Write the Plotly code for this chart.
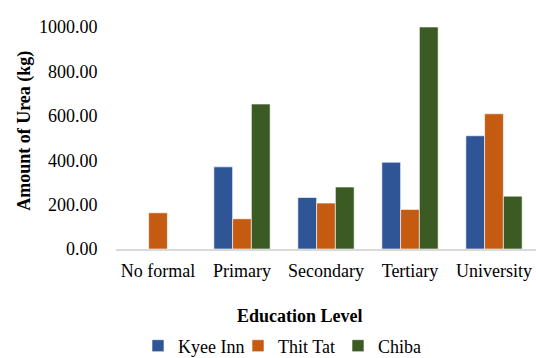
import plotly.graph_objects as go

categories = ["No formal", "Primary", "Secondary", "Tertiary", "University"]
kyee_inn = [0, 370, 232, 391, 510]
thit_tat = [163, 136, 207, 178, 609]
chiba = [0, 653, 279, 1000, 238]
y_ticks = [0, 200, 400, 600, 800, 1000]

FONT = "Liberation Serif, serif"

fig = go.Figure()
for name, vals, col in [("Kyee Inn", kyee_inn, "#2F5597"),
                        ("Thit Tat", thit_tat, "#C55A11"),
                        ("Chiba", chiba, "#3B5A24")]:
    fig.add_trace(go.Bar(x=categories, y=vals, name=name,
                         marker=dict(color=col, line=dict(color="white", width=0.6))))

fig.update_layout(
    width=536, height=358,
    margin=dict(l=116, r=0, t=27, b=109, autoexpand=False),
    paper_bgcolor="white", plot_bgcolor="white",
    barmode="group", bargap=0.33, bargroupgap=0,
    font=dict(family=FONT, size=18, color="#000000"),
    showlegend=True,
    legend=dict(orientation="h", x=(138 - 116) / 420, xanchor="left",
                yref="container", y=(358 - 346) / 358, yanchor="middle",
                font=dict(family=FONT, size=18), itemwidth=30, traceorder="normal",
                entrywidth=55, entrywidthmode="pixels"),
    xaxis=dict(showline=True, linecolor="#d9d9d9", linewidth=1.5, showgrid=False,
               ticks="outside", ticklen=5, tickcolor="rgba(0,0,0,0)",
               tickfont=dict(family=FONT, size=18)),
    yaxis=dict(range=[0, 1000], tickvals=y_ticks, tickformat=".2f",
               showgrid=False, showline=False, zeroline=False,
               ticks="outside", ticklen=14, tickcolor="rgba(0,0,0,0)",
               tickfont=dict(family=FONT, size=18)),
    annotations=[
        dict(text="<b>Education Level</b>", xref="paper", yref="paper",
             x=(300 - 116) / 420, y=(249.3 - 316.7) / 222.3, xanchor="center", yanchor="middle",
             showarrow=False, font=dict(family=FONT, size=18)),
        dict(text="<b>Amount of Urea (kg)</b>", xref="paper", yref="paper",
             x=(25 - 116) / 420, y=(249.3 - 131) / 222.3, xanchor="center", yanchor="middle",
             textangle=-90, showarrow=False, font=dict(family=FONT, size=18)),
    ],
)

fig.write_html("out.html")
